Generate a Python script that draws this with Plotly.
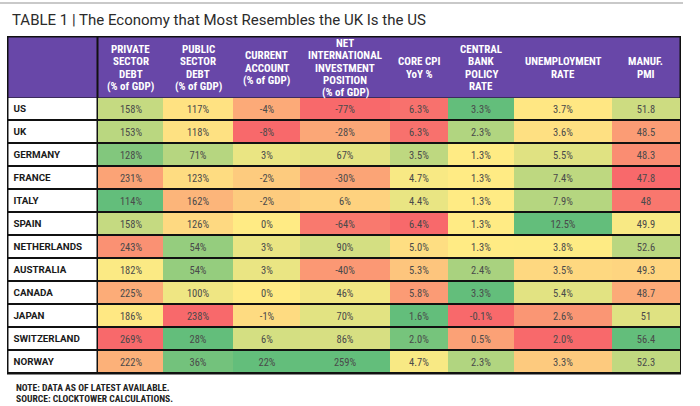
import numpy as np
import plotly.graph_objects as go

# ---------------- data ----------------
countries = ["US", "UK", "GERMANY", "FRANCE", "ITALY", "SPAIN", "NETHERLANDS",
             "AUSTRALIA", "CANADA", "JAPAN", "SWITZERLAND", "NORWAY"]
private_debt = [158, 153, 128, 231, 114, 158, 243, 182, 225, 186, 269, 222]
public_debt = [117, 118, 71, 123, 162, 126, 54, 54, 100, 238, 28, 36]
current_account = [-4, -8, 3, -2, -2, 0, 3, 3, 0, -1, 6, 22]
niip = [-77, -28, 67, -30, 6, -64, 90, -40, 46, 70, 86, 259]
core_cpi = [6.3, 6.3, 3.5, 4.7, 4.4, 6.4, 5.0, 5.3, 5.8, 1.6, 2.0, 4.7]
policy_rate = [3.3, 2.3, 1.3, 1.3, 1.3, 1.3, 1.3, 2.4, 3.3, -0.1, 0.5, 2.3]
unemployment = [3.7, 3.6, 5.5, 7.4, 7.9, 12.5, 3.8, 3.5, 5.4, 2.6, 2.0, 3.3]
manuf_pmi = [51.8, 48.5, 48.3, 47.8, 48, 49.9, 52.6, 49.3, 48.7, 51, 56.4, 52.3]

column_headers = [
    ["PRIVATE", "SECTOR", "DEBT", "(% of GDP)"],
    ["PUBLIC", "SECTOR", "DEBT", "(% of GDP)"],
    ["CURRENT", "ACCOUNT", "(% of GDP)"],
    ["NET", "INTERNATIONAL", "INVESTMENT", "POSITION", "(% of GDP)"],
    ["CORE CPI", "YoY %"],
    ["CENTRAL", "BANK", "POLICY", "RATE"],
    ["UNEMPLOYMENT", "RATE"],
    ["MANUF.", "PMI"],
]
columns = [private_debt, public_debt, current_account, niip,
           core_cpi, policy_rate, unemployment, manuf_pmi]
formats = ["{:.0f}%", "{:.0f}%", "{:.0f}%", "{:.0f}%",
           "{:.1f}%", "{:.1f}%", "{:.1f}%", "{:g}"]
higher_is_green = [False, False, True, True, False, True, True, True]

title = "TABLE 1 | The Economy that Most Resembles the UK Is the US"
notes = ["NOTE: DATA AS OF LATEST AVAILABLE.", "SOURCE: CLOCKTOWER CALCULATIONS."]

# ---------------- style / layout ----------------
W, H = 700, 406
RED, YEL, GRN = "#F8696B", "#FFEB84", "#63BE7B"
PURPLE = "#6847A8"
NARROW = "Liberation Sans Narrow, Arial Narrow, Roboto Condensed, Roboto, sans-serif"
BOLD_FONT = "Roboto, Liberation Sans, sans-serif"

name_edges = [8.5, 96.5]
col_edges = [98, 163, 233, 300, 390, 448, 514, 612, 679.5]
header_y = [37.5, 97]
header_center = 68
header_line = 12.3
row_top, row_bottom = 97, 373
n = len(countries)
row_edges = [row_top + (row_bottom - row_top) * i / n for i in range(n + 1)]
row_centers = [(row_edges[i] + row_edges[i + 1]) / 2 + 1 for i in range(n)]

fig = go.Figure()

# header band
fig.add_trace(go.Heatmap(
    x=[name_edges[0], name_edges[1], col_edges[0], col_edges[-1]],
    y=header_y,
    z=[[0, None, 0]],
    colorscale=[[0, PURPLE], [1, PURPLE]], showscale=False,
    hoverinfo="skip",
))

# country column (white cells)
fig.add_trace(go.Heatmap(
    x=name_edges, y=row_edges,
    z=[[0] for _ in countries],
    colorscale=[[0, "white"], [1, "white"]], showscale=False,
    ygap=2, hoverinfo="skip",
))
fig.add_trace(go.Scatter(
    x=[13.5] * n, y=row_centers, text=countries, mode="text",
    textposition="middle right",
    textfont=dict(family=BOLD_FONT, size=9.8, color="#1a1a1a", weight="bold"),
    hoverinfo="skip", showlegend=False,
))

# data columns, each with its own 3-colour scale (min / median / max)
for j, vals in enumerate(columns):
    v = np.array(vals, dtype=float)
    lo, hi, mid = v.min(), v.max(), float(np.median(v))
    t = (mid - lo) / (hi - lo)
    if higher_is_green[j]:
        cs = [[0, RED], [t, YEL], [1, GRN]]
    else:
        cs = [[0, GRN], [t, YEL], [1, RED]]
    fig.add_trace(go.Heatmap(
        x=[col_edges[j], col_edges[j + 1]], y=row_edges,
        z=[[x] for x in vals],
        text=[[formats[j].format(x)] for x in vals],
        texttemplate="%{text}",
        textfont=dict(family=NARROW, size=10.5, color="#4a4a4a"),
        colorscale=cs, zmin=lo, zmax=hi, showscale=False,
        ygap=2, hoverinfo="skip",
    ))

annotations = []
for j, lines in enumerate(column_headers):
    k = len(lines)
    for i, line in enumerate(lines):
        annotations.append(dict(
            x=(col_edges[j] + col_edges[j + 1]) / 2,
            y=header_center + (i - (k - 1) / 2) * header_line,
            xref="x", yref="y", text=line, showarrow=False,
            xanchor="center", yanchor="middle", borderpad=0,
            font=dict(family=NARROW, size=11, color="white", weight="bold"),
        ))
annotations.append(dict(
    x=10, y=20, xref="x", yref="y", text=title, showarrow=False,
    xanchor="left", yanchor="middle",
    font=dict(family="Roboto, sans-serif", size=15, color="#2b2b2b"),
))
for i, line in enumerate(notes):
    annotations.append(dict(
        x=15, y=387.5 + 11 * i, xref="x", yref="y", text=line, showarrow=False,
        xanchor="left", yanchor="middle", borderpad=0,
        font=dict(family=NARROW, size=9.6, color="#222222", weight="bold"),
    ))

shapes = [
    dict(type="rect", xref="x", yref="y", x0=7, x1=681, y0=36, y1=374.5,
         fillcolor="#111111", line=dict(width=0), layer="below"),
    dict(type="line", xref="x", yref="y", x0=0, x1=683, y0=3, y1=3,
         line=dict(color="#c9c9c9", width=2)),
]

fig.update_layout(
    width=W, height=H,
    margin=dict(l=0, r=0, t=0, b=0),
    paper_bgcolor="white", plot_bgcolor="white",
    xaxis=dict(range=[0, W], visible=False, fixedrange=True),
    yaxis=dict(range=[H, 0], visible=False, fixedrange=True),
    annotations=annotations, shapes=shapes, showlegend=False,
)

fig.write_html(
    "out.html",
    config={"displayModeBar": False},
    post_script="document.body.style.margin='0';document.body.style.overflow='hidden';",
)
